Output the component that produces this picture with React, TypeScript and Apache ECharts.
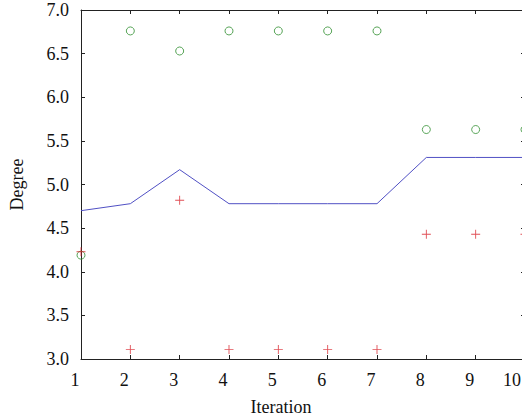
import React, { useEffect, useRef } from "react";
import * as echarts from "echarts";

const iterations = [1, 2, 3, 4, 5, 6, 7, 8, 9, 10];
const avgDegree = [4.7, 4.78, 5.17, 4.78, 4.78, 4.78, 4.78, 5.31, 5.31, 5.31];
const maxDegree = [4.19, 6.76, 6.53, 6.76, 6.76, 6.76, 6.76, 5.63, 5.63, 5.63];
const minDegree = [4.23, 3.11, 4.82, 3.11, 3.11, 3.11, 3.11, 4.43, 4.43, 4.43];

const FONT = "'Liberation Serif', 'DejaVu Serif', serif";
const PLUS = "path://M0,4.5H10V5.5H0Z M4.5,0H5.5V10H4.5Z";

export default function App() {
  const ref = useRef<HTMLDivElement>(null);
  useEffect(() => {
    if (!ref.current) return;
    const chart = echarts.init(ref.current, undefined, { renderer: "svg" });
    const pair = (vals: number[]) => iterations.map((x, i) => [x, vals[i]]);
    const axisLine = { show: true, lineStyle: { color: "#222", width: 1 } };
    const tick = { show: true, inside: true, length: 4, lineStyle: { color: "#222" } };
    const lastX = iterations[iterations.length - 1];
    const labelText = { fontFamily: FONT, fontSize: 18, color: "#111" };
    chart.setOption({
      animation: false,
      backgroundColor: "#fff",
      grid: {
        left: 81,
        width: 444,
        top: 10,
        height: 349,
        containLabel: false,
        outerBoundsMode: "none",
      },
      xAxis: [
        {
          type: "value",
          min: 1,
          max: 10,
          interval: 1,
          name: "Iteration",
          nameLocation: "middle",
          nameGap: 39,
          nameTextStyle: { ...labelText, padding: [0, 44, 0, 0] },
          axisLine,
          axisTick: tick,
          splitLine: { show: false },
          axisLabel: {
            ...labelText,
            margin: 12,
            padding: [0, 12, 0, 0],
            hideOverlap: false,
            formatter: (v: number) => (v === lastX ? `{last|${v}}` : `{n|${v}}`),
            rich: {
              n: { ...labelText },
              last: { ...labelText, padding: [0, 14, 0, 0] },
            },
          },
        },
        {
          type: "value",
          position: "top",
          min: 1,
          max: 10,
          interval: 1,
          axisLine,
          axisTick: tick,
          splitLine: { show: false },
          axisLabel: { show: false },
        },
      ],
      yAxis: [
        {
          type: "value",
          min: 3,
          max: 7,
          interval: 0.5,
          name: "Degree",
          nameLocation: "middle",
          nameGap: 55,
          nameTextStyle: { ...labelText },
          axisLine,
          axisTick: tick,
          splitLine: { show: false },
          axisLabel: {
            ...labelText,
            margin: 12,
            padding: [0, 0, 6, 0],
            formatter: (v: number) => v.toFixed(1),
          },
        },
        {
          type: "value",
          position: "right",
          min: 3,
          max: 7,
          interval: 0.5,
          axisLine,
          axisTick: tick,
          splitLine: { show: false },
          axisLabel: { show: false },
        },
      ],
      series: [
        {
          type: "line",
          data: pair(avgDegree),
          showSymbol: false,
          symbol: "none",
          lineStyle: { color: "#5050c4", width: 1 },
        },
        {
          type: "scatter",
          data: pair(maxDegree),
          symbol: "circle",
          symbolSize: 8,
          itemStyle: { color: "transparent", borderColor: "#2f8f2f", borderWidth: 1 },
        },
        {
          type: "scatter",
          data: pair(minDegree),
          symbol: PLUS,
          symbolSize: 9,
          itemStyle: { color: "#d8222a" },
        },
      ],
    });
    return () => chart.dispose();
  }, []);
  return (
    <div
      ref={ref}
      style={{ position: "absolute", left: 0, top: 0, width: 522, height: 419 }}
    />
  );
}
